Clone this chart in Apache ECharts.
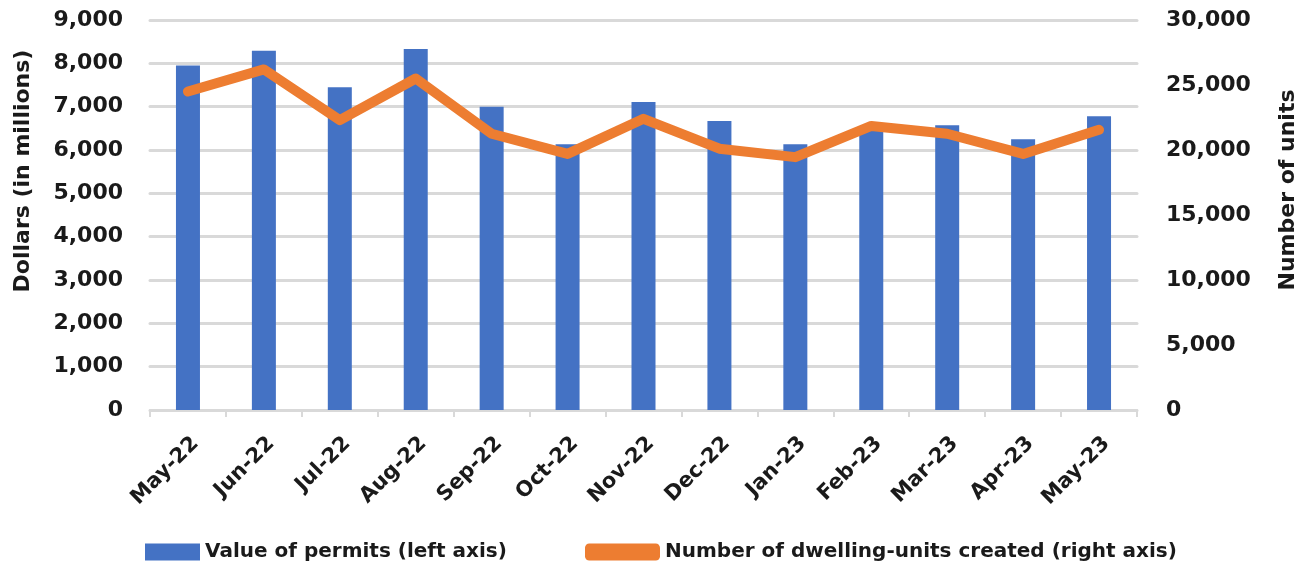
<!DOCTYPE html>
<html><head><meta charset="utf-8">
<script src="https://cdn.jsdelivr.net/npm/echarts@6/dist/echarts.min.js"></script>
<style>html,body{margin:0;padding:0;background:#fff}#c{width:1307px;height:565px}</style>
</head><body><div id="c"></div>
<script>
const categories = ['May-22','Jun-22','Jul-22','Aug-22','Sep-22','Oct-22','Nov-22','Dec-22','Jan-23','Feb-23','Mar-23','Apr-23','May-23'];
const permitValues = [7950, 8290, 7450, 8330, 7000, 6130, 7110, 6670, 6130, 6550, 6570, 6250, 6780];
const dwellingUnits = [24500, 26200, 22300, 25500, 21250, 19700, 22400, 20100, 19450, 21850, 21250, 19700, 21550];
const leftTicks = {min: 0, max: 9000, interval: 1000};
const rightTicks = {min: 0, max: 30000, interval: 5000};

const FONT = '"DejaVu Sans", sans-serif';
const TXT = '#1a1a1a';
const fmt = v => v.toLocaleString('en-US');
const chart = echarts.init(document.getElementById('c'));
chart.setOption({
  animation: false,
  textStyle: {fontFamily: FONT, fontWeight: 'bold', color: TXT},
  grid: {left: 150, right: 169, top: 20, bottom: 155},
  legend: [
    {data: [{name: 'Value of permits (left axis)', icon: 'rect'}], left: 140, top: 537, itemWidth: 55, itemHeight: 17, itemGap: 10,
     textStyle: {fontFamily: FONT, fontWeight: 'bold', fontSize: 20, color: TXT}},
    {data: [{name: 'Number of dwelling-units created (right axis)', icon: 'roundRect'}], left: 580, top: 537, itemWidth: 75, itemHeight: 17,
     textStyle: {fontFamily: FONT, fontWeight: 'bold', fontSize: 20, color: TXT}}
  ],
  xAxis: {
    type: 'category', data: categories,
    axisLine: {lineStyle: {color: '#d9d9d9', width: 2}},
    axisTick: {show: true, length: 7, lineStyle: {color: '#d9d9d9', width: 2}},
    axisLabel: {rotate: 45, margin: 23, verticalAlign: 'top', fontSize: 21, fontWeight: 'bold', fontFamily: FONT, color: TXT}
  },
  yAxis: [
    {type: 'value', min: leftTicks.min, max: leftTicks.max, interval: leftTicks.interval,
     name: 'Dollars (in millions)', nameLocation: 'middle', nameGap: 116,
     nameTextStyle: {fontSize: 22, fontWeight: 'bold', fontFamily: FONT, color: TXT, padding: [0, 0, 0, 88]},
     axisLine: {show: false}, axisTick: {show: false},
     axisLabel: {formatter: fmt, margin: 27, fontSize: 22, fontWeight: 'bold', fontFamily: FONT, color: TXT},
     splitLine: {lineStyle: {color: '#d9d9d9', width: 3, cap: 'round'}}},
    {type: 'value', min: rightTicks.min, max: rightTicks.max, interval: rightTicks.interval,
     name: 'Number of units', nameLocation: 'middle', nameGap: 140,
     nameTextStyle: {fontSize: 22, fontWeight: 'bold', fontFamily: FONT, color: TXT, padding: [0, 0, 0, 50]},
     axisLine: {show: false}, axisTick: {show: false},
     axisLabel: {formatter: fmt, margin: 29, fontSize: 22, fontWeight: 'bold', fontFamily: FONT, color: TXT},
     splitLine: {show: false}}
  ],
  series: [
    {name: 'Value of permits (left axis)', type: 'bar', data: permitValues, barWidth: 24, itemStyle: {color: '#4472C4'}, yAxisIndex: 0},
    {name: 'Number of dwelling-units created (right axis)', type: 'line', data: dwellingUnits, yAxisIndex: 1, symbol: 'none',
     itemStyle: {color: '#ED7D31'}, lineStyle: {color: '#ED7D31', width: 10, cap: 'round', join: 'round'}}
  ]
});
</script></body></html>
